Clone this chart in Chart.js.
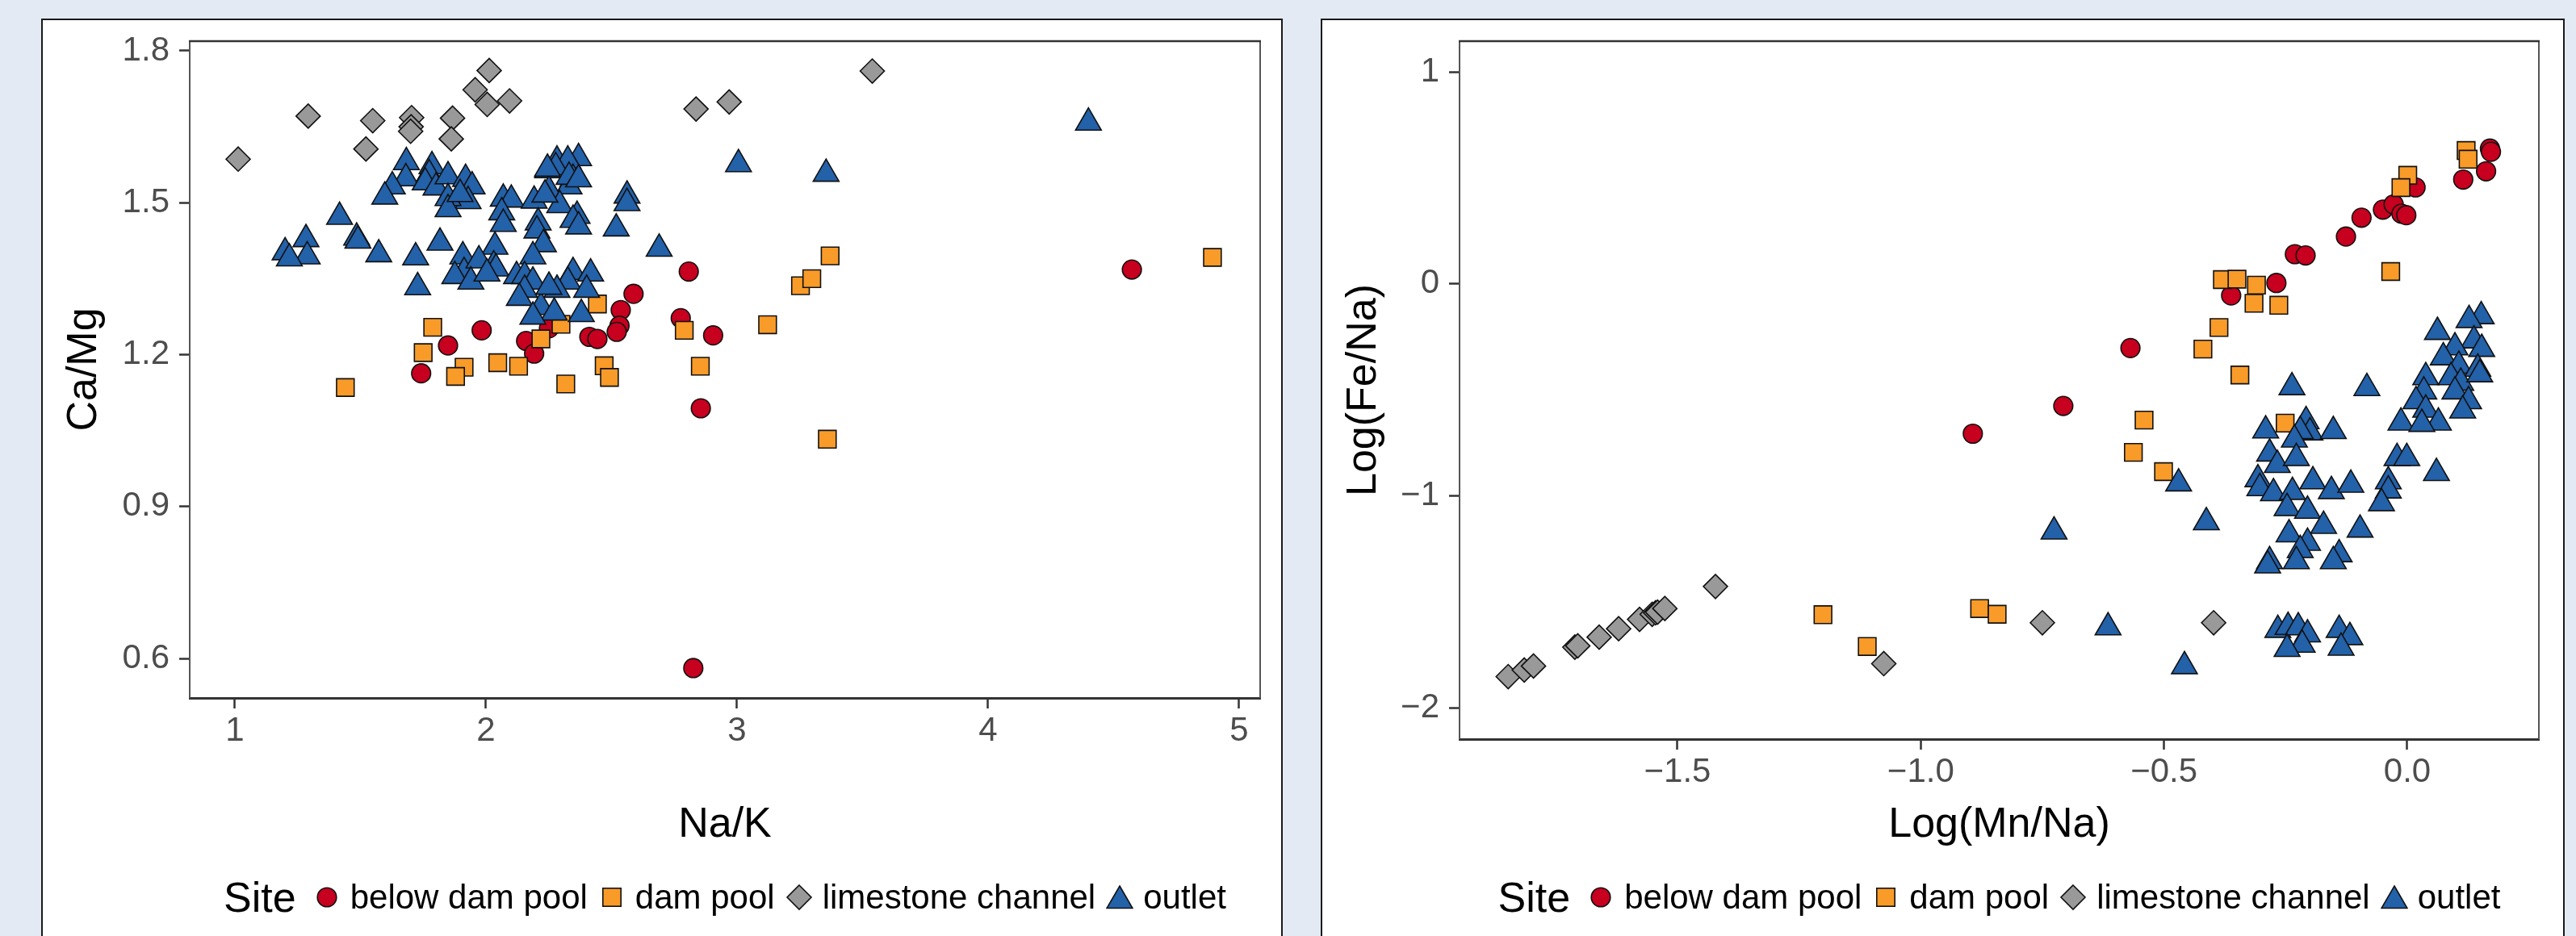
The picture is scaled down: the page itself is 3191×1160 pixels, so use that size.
<!DOCTYPE html>
<html><head><meta charset="utf-8">
<script src="https://cdn.jsdelivr.net/npm/chart.js@4.4.1/dist/chart.umd.min.js"></script>
<style>
html,body{margin:0;padding:0;background:#E3EAF3;width:3191px;height:1160px;overflow:hidden;font-family:"Liberation Sans",Arial,Helvetica,sans-serif;}
.panel{position:absolute;top:23px;height:1200px;background:#fff;border:2px solid #1a1a1a;box-sizing:border-box;}
canvas{position:absolute;top:0;}
.legend{position:absolute;top:1072px;height:80px;display:flex;justify-content:center;align-items:center;white-space:nowrap;color:#000;}
.legend .ttl{font-size:52px;margin-right:21px;}
.legend .item{display:flex;align-items:center;font-size:42px;margin-right:13px;}
.legend .item:last-child{margin-right:0;}
.legend svg{margin-right:12px;}
</style></head>
<body>
<div class="panel" style="left:51px;width:1538px;"></div>
<div class="panel" style="left:1636px;width:1541px;"></div>
<canvas id="c1" width="1600" height="1080" style="left:0;width:1600px;height:1080px;"></canvas>
<canvas id="c2" width="1591" height="1080" style="left:1600px;width:1591px;height:1080px;"></canvas>
<div class="legend" id="lg1" style="left:235px;width:1326px;"></div>
<div class="legend" id="lg2" style="left:1808px;width:1337px;"></div>
<script>
// ---------- categories ----------
const sites = ['below dam pool', 'dam pool', 'limestone channel', 'outlet'];
const legendTitle = 'Site';

// ---------- left panel: Na/K vs Ca/Mg ----------
const belowDamPool_NaK  = [1.983,1.849,1.742,2.160,2.192,2.251,2.412,2.444,2.808,2.588,2.537,2.532,2.521,2.776,2.905,2.856,4.573,2.826];
const belowDamPool_CaMg = [1.248,1.218,1.163,1.227,1.202,1.252,1.235,1.231,1.364,1.320,1.288,1.257,1.245,1.272,1.238,1.094,1.368,0.581];

const damPool_NaK  = [1.788,1.750,1.913,1.879,2.047,2.130,2.219,2.299,2.318,1.440,2.444,2.471,2.492,2.790,2.854,3.122,3.253,3.298,3.371,3.360,4.894];
const damPool_CaMg = [1.254,1.204,1.175,1.157,1.184,1.177,1.231,1.260,1.142,1.135,1.300,1.178,1.155,1.248,1.177,1.259,1.336,1.350,1.395,1.033,1.392];

const limestone_NaK  = [1.013,1.292,1.549,1.522,1.704,1.702,1.700,1.867,1.862,2.013,1.957,2.005,2.094,2.837,2.969,3.539];
const limestone_CaMg = [1.586,1.671,1.662,1.606,1.668,1.650,1.641,1.667,1.626,1.761,1.723,1.694,1.701,1.685,1.699,1.760];

const outlet_NaK  = [1.200,1.283,1.288,1.217,1.417,1.485,1.490,1.573,1.720,1.728,1.817,1.683,1.681,1.627,1.597,1.785,1.774,1.758,1.801,1.849,
                     1.919,1.945,1.929,1.849,1.849,1.897,2.069,2.101,2.063,2.069,2.036,2.031,2.192,2.208,2.203,2.229,2.187,2.283,2.369,2.326,
                     2.246,2.278,2.347,2.331,2.251,2.294,2.363,2.347,2.369,1.908,1.913,1.972,1.876,1.940,2.040,2.004,2.122,2.154,2.187,2.154,
                     2.133,2.219,2.272,2.187,2.347,2.326,2.417,2.401,2.380,2.283,2.251,2.245,2.331,2.369,2.235,2.562,2.562,2.519,2.690,3.006,
                     3.355,4.400];
const outlet_CaMg = [1.402,1.428,1.394,1.390,1.472,1.431,1.425,1.398,1.392,1.333,1.421,1.580,1.548,1.532,1.512,1.572,1.556,1.540,1.530,1.552,
                     1.547,1.532,1.503,1.509,1.487,1.517,1.508,1.506,1.481,1.458,1.413,1.376,1.504,1.461,1.445,1.418,1.394,1.583,1.588,1.583,
                     1.564,1.570,1.547,1.532,1.524,1.495,1.474,1.466,1.453,1.394,1.363,1.386,1.355,1.344,1.370,1.360,1.355,1.355,1.344,1.328,
                     1.312,1.294,1.283,1.275,1.363,1.344,1.360,1.328,1.280,1.328,1.334,1.567,1.551,1.546,1.516,1.514,1.499,1.449,1.409,1.576,
                     1.557,1.658];

// ---------- right panel: Log(Mn/Na) vs Log(Fe/Na) ----------
const belowDamPool_logMnNa = [-0.893,-0.707,-0.569,-0.362,-0.269,-0.231,-0.209,-0.126,-0.094,-0.050,-0.028,-0.012,-0.002,0.017,0.115,0.162,0.170,0.172];
const belowDamPool_logFeNa = [-0.707,-0.576,-0.303,-0.055,0.004,0.140,0.134,0.223,0.312,0.350,0.375,0.331,0.324,0.455,0.492,0.531,0.638,0.623];

const damPool_logMnNa = [-1.201,-1.110,-0.879,-0.843,-0.541,-0.563,-0.501,-0.344,-0.420,-0.387,-0.380,-0.350,-0.310,-0.315,-0.264,-0.251,-0.034,0.001,-0.013,0.121,0.125];
const damPool_logFeNa = [-1.561,-1.711,-1.532,-1.559,-0.643,-0.795,-0.886,-0.430,-0.308,-0.206,0.020,0.022,-0.006,-0.092,-0.101,-0.657,0.058,0.512,0.454,0.629,0.588];

const limestone_logMnNa = [-1.848,-1.815,-1.796,-1.711,-1.705,-1.661,-1.621,-1.578,-1.552,-1.545,-1.541,-1.526,-1.422,-1.076,-0.750,-0.398];
const limestone_logFeNa = [-1.853,-1.822,-1.803,-1.714,-1.708,-1.667,-1.627,-1.583,-1.559,-1.552,-1.549,-1.532,-1.428,-1.792,-1.599,-1.599];

const outlet_logMnNa = [-0.470,-0.413,-0.726,-0.615,-0.458,-0.237,-0.083,-0.291,-0.208,-0.200,-0.152,-0.220,-0.232,-0.283,-0.267,-0.228,-0.307,-0.303,-0.275,-0.194,
                        -0.156,-0.116,-0.236,-0.247,-0.205,-0.172,-0.243,-0.205,-0.220,-0.283,-0.287,-0.228,-0.140,-0.152,-0.097,-0.021,-0.001,-0.039,-0.039,-0.053,
                        0.060,-0.266,-0.245,-0.224,-0.205,-0.216,-0.247,-0.140,-0.118,-0.136,0.152,0.127,0.062,0.137,0.098,0.153,0.074,0.106,0.145,0.038,
                        0.090,0.110,0.149,0.098,0.034,0.018,0.126,0.038,0.114,-0.013,0.064,0.030];
const outlet_logFeNa = [-0.942,-1.125,-1.169,-1.621,-1.804,-0.488,-0.492,-0.692,-0.648,-0.701,-0.695,-0.695,-0.735,-0.801,-0.855,-0.822,-0.922,-0.964,-0.988,-0.932,
                        -0.978,-0.948,-0.982,-1.058,-1.071,-1.142,-1.182,-1.222,-1.256,-1.309,-1.329,-1.309,-1.276,-1.309,-1.160,-0.822,-0.822,-0.932,-0.975,-1.035,
                        -0.893,-1.633,-1.619,-1.621,-1.654,-1.703,-1.723,-1.633,-1.667,-1.717,-0.153,-0.171,-0.227,-0.267,-0.300,-0.307,-0.347,-0.387,-0.401,-0.441,
                        -0.441,-0.467,-0.427,-0.508,-0.508,-0.554,-0.554,-0.594,-0.598,-0.655,-0.655,-0.661];

// ---------- ticks ----------
const leftXTicks = [1, 2, 3, 4, 5];
const leftXTickLabels = ['1', '2', '3', '4', '5'];
const leftYTicks = [0.6, 0.9, 1.2, 1.5, 1.8];
const leftYTickLabels = ['0.6', '0.9', '1.2', '1.5', '1.8'];
const rightXTicks = [-1.5, -1.0, -0.5, 0.0];
const rightXTickLabels = ['\u22121.5', '\u22121.0', '\u22120.5', '0.0'];
const rightYTicks = [-2, -1, 0, 1];
const rightYTickLabels = ['\u22122', '\u22121', '0', '1'];

// ---------- styling ----------
const FONT = '"Liberation Sans", Arial, Helvetica, sans-serif';
const siteColors = ['#C6001E', '#F99B29', '#999999', '#2361A9'];
const siteShapes = ['circle', 'rect', 'rectRot', 'triangle'];
const siteRadius = [11.8, 15.4, 15.0, 18.4];
const siteOrder = [4, 3, 2, 1];

function zip(xs, ys) { return xs.map((x, i) => ({x: x, y: ys[i]})); }

function makeDatasets(series) {
  return series.map((s, i) => ({
    label: sites[i],
    data: zip(s[0], s[1]),
    pointStyle: siteShapes[i],
    pointRadius: siteRadius[i],
    pointHoverRadius: siteRadius[i],
    backgroundColor: siteColors[i],
    borderColor: '#111111',
    borderWidth: 1.6,
    order: siteOrder[i]
  }));
}

const framePlugin = {
  id: 'frame',
  beforeDatasetsDraw(chart) {
    const a = chart.chartArea, ctx = chart.ctx;
    ctx.save();
    ctx.lineWidth = 2;
    ctx.strokeStyle = '#555555';
    ctx.beginPath();
    ctx.moveTo(a.left, a.bottom); ctx.lineTo(a.left, a.top);
    ctx.moveTo(a.right, a.top); ctx.lineTo(a.right, a.bottom);
    ctx.stroke();
    ctx.strokeStyle = '#333333';
    ctx.lineWidth = 2.5;
    ctx.beginPath();
    ctx.moveTo(a.left - 1, a.top); ctx.lineTo(a.right + 1, a.top);
    ctx.stroke();
    ctx.restore();
  }
};

function axis(o) {
  return {
    type: 'linear',
    position: o.position,
    min: o.min, max: o.max,
    afterBuildTicks: (s) => { s.ticks = o.ticks.map(v => ({value: v})); },
    afterFit: (s) => { if (o.position === 'bottom') s.height = o.size; else s.width = o.size; },
    ticks: {
      autoSkip: false, maxRotation: 0, minRotation: 0,
      color: '#4D4D4D', font: {size: 42, family: FONT},
      padding: o.position === 'bottom' ? 3 : 12,
      callback: (v, i) => o.labels[i]
    },
    grid: {display: true, drawOnChartArea: false, drawTicks: true, tickLength: 13, tickColor: '#333333', tickWidth: 2.5},
    border: o.position === 'bottom' ? {display: true, color: '#333333', width: 3} : {display: false},
    title: {display: true, text: o.title, color: '#000000', font: {size: 52, family: FONT}, padding: {top: 22, bottom: 26}}
  };
}

function makeChart(id, series, xo, yo, pad) {
  return new Chart(document.getElementById(id), {
    type: 'scatter',
    data: {datasets: makeDatasets(series)},
    options: {
      responsive: false, animation: false, devicePixelRatio: 1, events: [],
      layout: {padding: pad},
      plugins: {legend: {display: false}, tooltip: {enabled: false}},
      scales: {x: axis(xo), y: axis(yo)}
    },
    plugins: [framePlugin]
  });
}

makeChart('c1',
  [[belowDamPool_NaK, belowDamPool_CaMg], [damPool_NaK, damPool_CaMg], [limestone_NaK, limestone_CaMg], [outlet_NaK, outlet_CaMg]],
  {position: 'bottom', min: 0.82, max: 5.084, ticks: leftXTicks, labels: leftXTickLabels, title: 'Na/K', size: 215},
  {position: 'left', min: 0.522, max: 1.819, ticks: leftYTicks, labels: leftYTickLabels, title: 'Ca/Mg', size: 184},
  {left: 51, right: 39, top: 51, bottom: 0});

makeChart('c2',
  [[belowDamPool_logMnNa, belowDamPool_logFeNa], [damPool_logMnNa, damPool_logFeNa], [limestone_logMnNa, limestone_logFeNa], [outlet_logMnNa, outlet_logFeNa]],
  {position: 'bottom', min: -1.948, max: 0.2705, ticks: rightXTicks, labels: rightXTickLabels, title: 'Log(Mn/Na)', size: 164},
  {position: 'left', min: -2.148, max: 1.145, ticks: rightYTicks, labels: rightYTickLabels, title: 'Log(Fe/Na)', size: 172},
  {left: 36, right: 46, top: 51, bottom: 0});

// ---------- HTML legends ----------
function markerSVG(i) {
  const c = siteColors[i], st = 'stroke="#111" stroke-width="1.6"';
  let shape;
  if (i === 0) shape = `<circle cx="17" cy="17" r="11.8" fill="${c}" ${st}/>`;
  else if (i === 1) shape = `<rect x="5.8" y="5.8" width="22.4" height="22.4" fill="${c}" ${st}/>`;
  else if (i === 2) shape = `<polygon points="17,2 32,17 17,32 2,17" fill="${c}" ${st}/>`;
  else shape = `<polygon points="17,3 33,30.5 1,30.5" fill="${c}" ${st}/>`;
  return `<svg width="34" height="34" viewBox="0 0 34 34">${shape}</svg>`;
}
function buildLegend(id) {
  const el = document.getElementById(id);
  let html = `<span class="ttl">${legendTitle}</span>`;
  sites.forEach((s, i) => { html += `<span class="item">${markerSVG(i)}<span>${s}</span></span>`; });
  el.innerHTML = html;
}
buildLegend('lg1');
buildLegend('lg2');
</script>
</body></html>
